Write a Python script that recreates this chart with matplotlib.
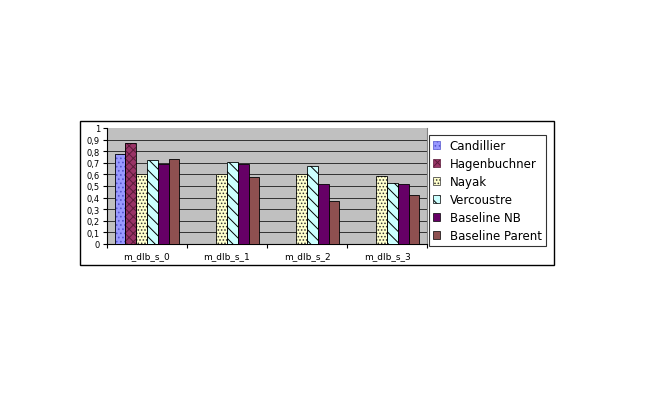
import numpy as np
import matplotlib.pyplot as plt
from matplotlib.patches import Rectangle, Patch
from matplotlib.ticker import FixedLocator

categories = ['m_dlb_s_0', 'm_dlb_s_1', 'm_dlb_s_2', 'm_dlb_s_3']
series = ['Candillier', 'Hagenbuchner', 'Nayak', 'Vercoustre', 'Baseline NB', 'Baseline Parent']
candillier = [0.78, 0, 0, 0]
hagenbuchner = [0.87, 0, 0, 0]
nayak = [0.60, 0.60, 0.60, 0.59]
vercoustre = [0.72, 0.71, 0.67, 0.53]
baseline_nb = [0.69, 0.69, 0.52, 0.52]
baseline_parent = [0.73, 0.58, 0.37, 0.42]
yticks = [0, 0.1, 0.2, 0.3, 0.4, 0.5, 0.6, 0.7, 0.8, 0.9, 1.0]
ytick_labels = ['0', '0,1', '0,2', '0,3', '0,4', '0,5', '0,6', '0,7', '0,8', '0,9', '1']

values = [candillier, hagenbuchner, nayak, vercoustre, baseline_nb, baseline_parent]
# face colour, hatch, hatch colour
styles = [
    ('#9999FF', '....', '#5555CC'),
    ('#993366', 'xxxx', '#5A1A38'),
    ('#FFFFCC', '.....', '#333333'),
    ('#CCFFFF', '\\\\\\', '#000000'),
    ('#660066', None, None),
    ('#8E5050', None, None),
]

plt.rcParams['font.family'] = ['DejaVu Sans']
plt.rcParams['hatch.linewidth'] = 0.7

fig = plt.figure(figsize=(6.54, 4.14), dpi=100)
fig.patch.set_facecolor('white')

# outer chart frame
fig.patches.append(Rectangle((80 / 654, 1 - 266 / 414), 474 / 654, 144 / 414,
                             transform=fig.transFigure, fill=False,
                             edgecolor='black', linewidth=1.0))

ax = fig.add_axes([107 / 654, 1 - 245 / 414, 320 / 654, 116 / 414])
ax.set_facecolor('#C0C0C0')

x = np.arange(len(categories))
w = 0.135
handles = []
for i, (vals, (fc, hatch, hc)) in enumerate(zip(values, styles)):
    pos = x + (i - 2.5) * w
    if hatch:
        ax.bar(pos, vals, w, color=fc, hatch=hatch, edgecolor=hc, linewidth=0, zorder=3)
        ax.bar(pos, vals, w, facecolor='none', edgecolor='black', linewidth=0.6, zorder=4)
        handles.append(Patch(facecolor=fc, hatch=hatch, edgecolor=hc, linewidth=0.5))
    else:
        ax.bar(pos, vals, w, color=fc, edgecolor='black', linewidth=0.6, zorder=3)
        handles.append(Patch(facecolor=fc, edgecolor='black', linewidth=0.5))

ax.set_ylim(0, 1)
ax.set_xlim(-0.5, len(categories) - 0.5)
ax.yaxis.set_major_locator(FixedLocator(yticks))
ax.set_yticklabels(ytick_labels, fontsize=6)
for yv in yticks[1:-1]:
    ax.axhline(yv, color='#1a1a1a', linewidth=0.6, zorder=1)

ax.set_xticks(x)
ax.set_xticklabels(categories, fontsize=6.5)
ax.set_xticks(np.arange(len(categories) + 1) - 0.5, minor=True)
ax.tick_params(axis='x', which='major', length=0, pad=5)
ax.tick_params(axis='x', which='minor', length=3, width=0.8)
ax.tick_params(axis='y', length=3, width=0.8, pad=2)

ax.spines['top'].set_visible(False)
ax.spines['right'].set_color('#808080')
ax.spines['left'].set_linewidth(0.8)
ax.spines['bottom'].set_linewidth(0.8)

leg = fig.legend(handles, series, loc='upper left',
                 bbox_to_anchor=(429 / 654, 1 - 136 / 414),
                 fontsize=8.5, frameon=True, fancybox=False,
                 handlelength=0.6, handleheight=0.6, handletextpad=0.8,
                 labelspacing=0.42, borderpad=0.35, borderaxespad=0)
leg.get_frame().set_edgecolor('black')
leg.get_frame().set_linewidth(0.8)

fig.savefig('out.png', dpi=100)
